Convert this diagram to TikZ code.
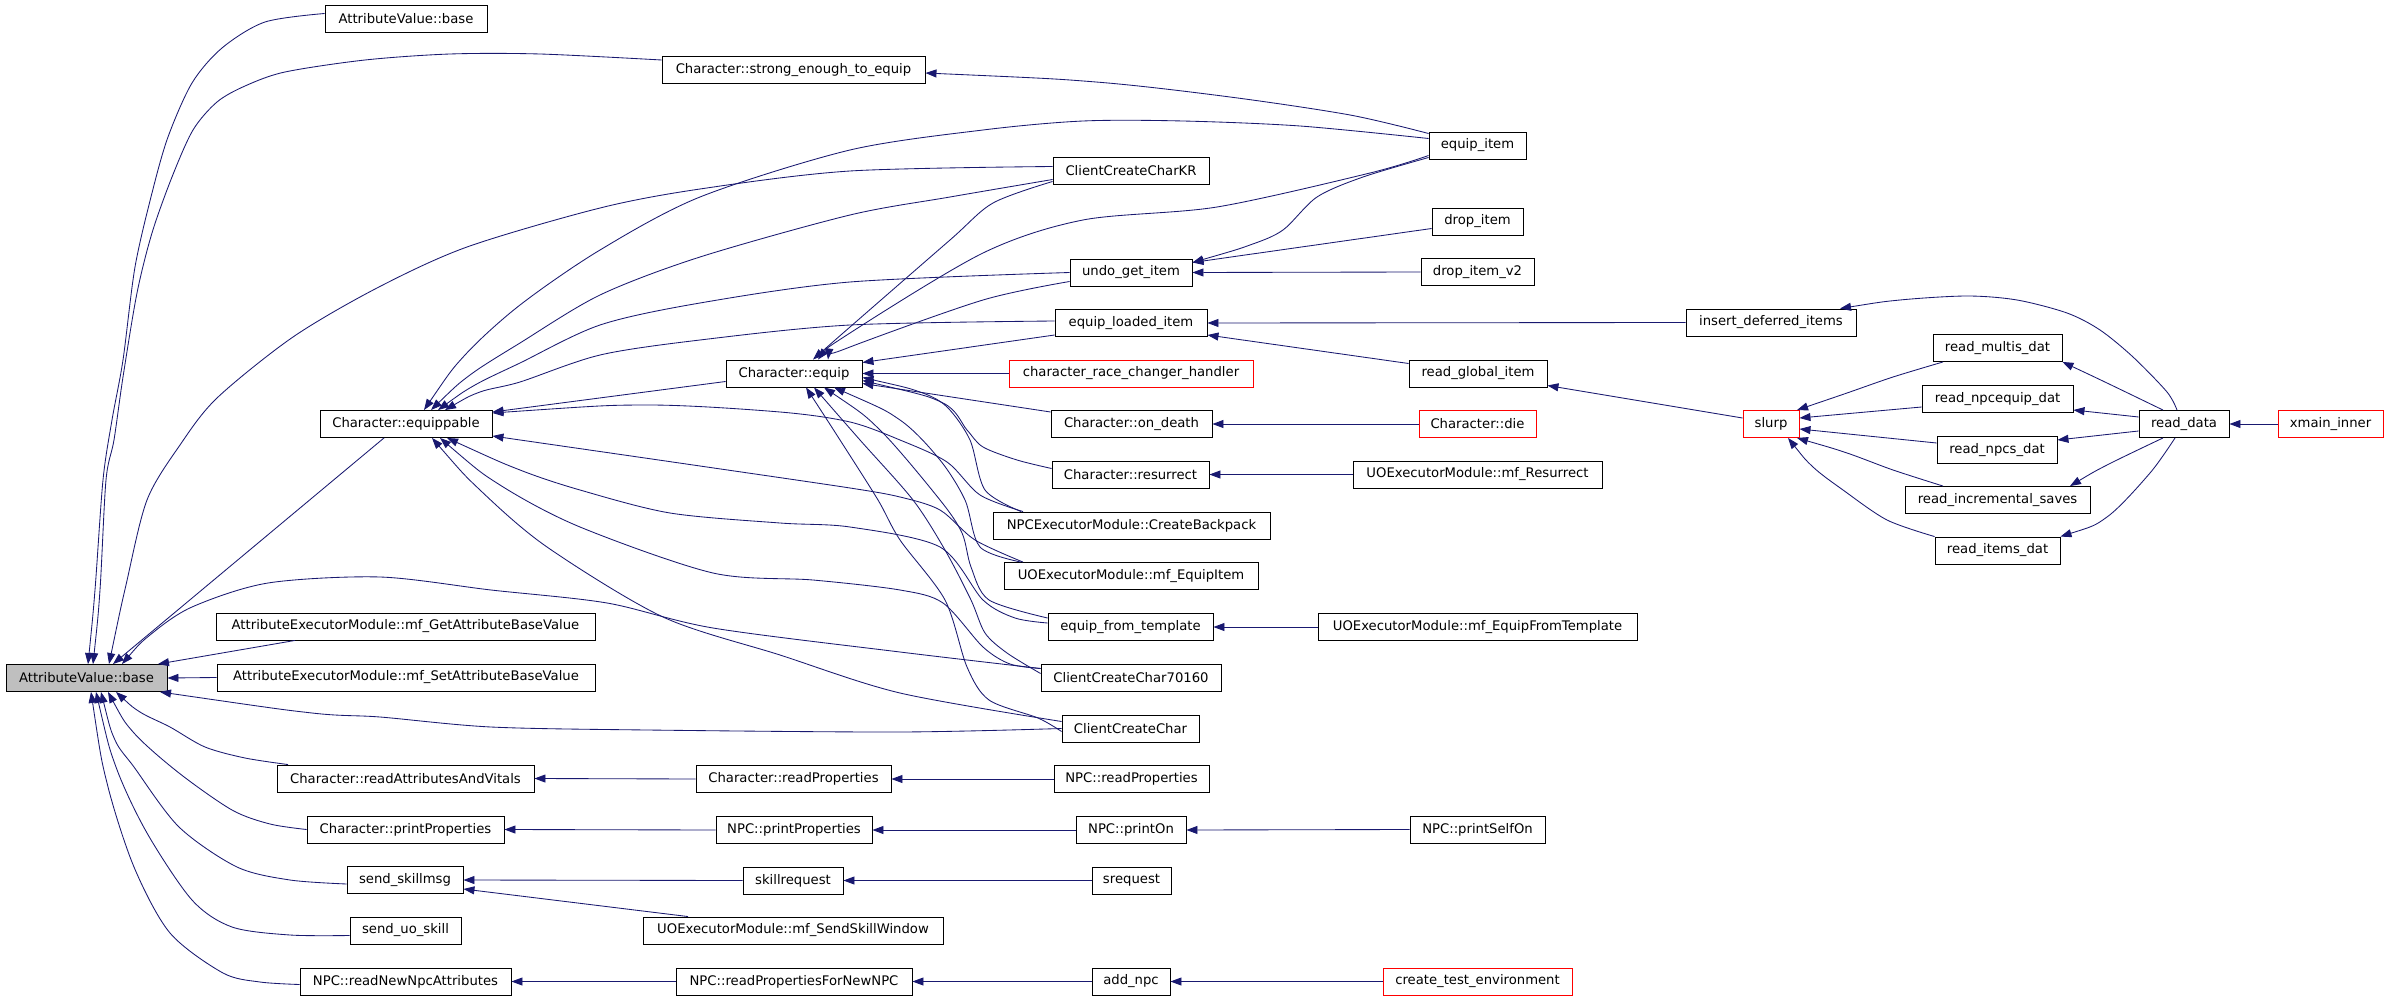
\documentclass[tikz,border=0pt]{standalone}
\usepackage{fontspec}
\newfontfamily\fnt{DejaVu Sans}
\usetikzlibrary{arrows.meta}
\definecolor{navy}{HTML}{191970}
\definecolor{boxgray}{HTML}{BFBFBF}
\begin{document}
\begin{tikzpicture}[x=1pt,y=-1pt,
  fn/.style={draw=black, line width=0.9pt, fill=white, inner sep=0pt, minimum height=27pt, font=\fnt\fontsize{13.2pt}{16pt}\selectfont, text=black},
  fnred/.style={fn, draw=red},
  callarrow/.style={draw=navy, line width=0.85pt, {Triangle[length=11pt,width=8pt]}-},
  sm/.style={smooth, tension=0.5}]
\useasboundingbox[fill=white] (0,0) rectangle (2389,1000);
% ---------- nodes ----------
\node[fn, fill=boxgray, minimum width=161pt] (avb) at (86.5,678) {AttributeValue::base};
\node[fn, minimum width=162pt] (avb2) at (406,18.5) {AttributeValue::base};
\node[fn, minimum width=263pt] (strong) at (793.5,70) {Character::strong\_enough\_to\_equip};
\node[fn, minimum width=172pt] (eqp) at (406,424) {Character::equippable};
\node[fn, minimum width=379pt] (getabv) at (405.5,626.5) {AttributeExecutorModule::mf\_GetAttributeBaseValue};
\node[fn, minimum width=378pt] (setabv) at (406,677.5) {AttributeExecutorModule::mf\_SetAttributeBaseValue};
\node[fn, minimum width=257pt] (rattr) at (405.5,778.5) {Character::readAttributesAndVitals};
\node[fn, minimum width=197pt] (pprops) at (405.5,829.5) {Character::printProperties};
\node[fn, minimum width=116pt] (sskill) at (405,880) {send\_skillmsg};
\node[fn, minimum width=111pt] (suo) at (405.5,930.5) {send\_uo\_skill};
\node[fn, minimum width=211pt] (rnew) at (405.5,981.5) {NPC::readNewNpcAttributes};
\node[fn, minimum width=136pt] (equip) at (794,373.5) {Character::equip};
\node[fn, minimum width=195pt] (creadp) at (793.5,779) {Character::readProperties};
\node[fn, minimum width=156pt] (nprint) at (794,830) {NPC::printProperties};
\node[fn, minimum width=100pt] (skreq) at (793,880.5) {skillrequest};
\node[fn, minimum width=300pt] (sswin) at (793,930.5) {UOExecutorModule::mf\_SendSkillWindow};
\node[fn, minimum width=236pt] (rpnew) at (794,981.5) {NPC::readPropertiesForNewNPC};
\node[fn, minimum width=156pt] (kr) at (1131,170.5) {ClientCreateCharKR};
\node[fn, minimum width=122pt] (undo) at (1131,272.5) {undo\_get\_item};
\node[fn, minimum width=152pt] (eload) at (1131,323) {equip\_loaded\_item};
\node[fnred, minimum width=244pt] (race) at (1131,373.5) {character\_race\_changer\_handler};
\node[fn, minimum width=161pt] (death) at (1131.5,424) {Character::on\_death};
\node[fn, minimum width=157pt] (resur) at (1130.5,474.5) {Character::resurrect};
\node[fn, minimum width=277pt] (cbp) at (1131.5,525.5) {NPCExecutorModule::CreateBackpack};
\node[fn, minimum width=254pt] (mfei) at (1131,576) {UOExecutorModule::mf\_EquipItem};
\node[fn, minimum width=165pt] (eft) at (1130.5,627) {equip\_from\_template};
\node[fn, minimum width=180pt] (c70) at (1131,677.5) {ClientCreateChar70160};
\node[fn, minimum width=137pt] (cc) at (1130.5,728.5) {ClientCreateChar};
\node[fn, minimum width=155pt] (nreadp) at (1131.5,779) {NPC::readProperties};
\node[fn, minimum width=110pt] (pon) at (1131,830) {NPC::printOn};
\node[fn, minimum width=79pt] (sreq) at (1131.5,880.5) {srequest};
\node[fn, minimum width=78pt] (addnpc) at (1131,981.5) {add\_npc};
\node[fn, minimum width=97pt] (eitem) at (1477.5,145.5) {equip\_item};
\node[fn, minimum width=91pt] (ditem) at (1477.5,221.5) {drop\_item};
\node[fn, minimum width=113pt] (ditem2) at (1477.5,272) {drop\_item\_v2};
\node[fn, minimum width=138pt] (rgi) at (1478,373.5) {read\_global\_item};
\node[fnred, minimum width=117pt] (die) at (1477.5,424) {Character::die};
\node[fn, minimum width=249pt] (mfres) at (1477.5,474.5) {UOExecutorModule::mf\_Resurrect};
\node[fn, minimum width=319pt] (mfeft) at (1477.5,627) {UOExecutorModule::mf\_EquipFromTemplate};
\node[fn, minimum width=135pt] (pself) at (1477.5,829.5) {NPC::printSelfOn};
\node[fnred, minimum width=189pt] (cte) at (1477.5,981.5) {create\_test\_environment};
\node[fn, minimum width=170pt] (ins) at (1771,322.5) {insert\_deferred\_items};
\node[fnred, minimum width=56pt] (slurp) at (1771,424) {slurp};
\node[fn, minimum width=129pt] (rmul) at (1997.5,348) {read\_multis\_dat};
\node[fn, minimum width=151pt] (rneq) at (1997.5,399) {read\_npcequip\_dat};
\node[fn, minimum width=120pt] (rnpcs) at (1997,450) {read\_npcs\_dat};
\node[fn, minimum width=185pt] (rinc) at (1997.5,500) {read\_incremental\_saves};
\node[fn, minimum width=125pt] (ritems) at (1997.5,550.5) {read\_items\_dat};
\node[fn, minimum width=90pt] (rdata) at (2184,424) {read\_data};
\node[fnred, minimum width=105pt] (xmain) at (2330.5,424) {xmain\_inner};
% ---------- callers of AttributeValue::base ----------
\draw[callarrow] plot[sm] coordinates {(avb.north -| 88,0) (95,590) (103,480) (112,420) (123,360) (135,267) (152,193) (168,137) (192,83) (222,48) (265,22) ([yshift=5pt]avb2.west)};
\draw[callarrow] plot[sm] coordinates {(avb.north -| 93,0) (100,590) (106,480) (114,440) (123,377) (137,293) (152,233) (172,177) (193,130) (217,102) (245,86) (285,72) (365,60) (450,54) (540,54) ([yshift=10pt]strong.west)};
\draw[callarrow] plot[sm] coordinates {(avb.north -| 109,0) (126,585) (147,500) (180,445) (217,398) (293,337) (377,288) (467,247) (600,208) (700,189) (850,171) ([yshift=4pt]kr.west)};
\draw[callarrow] (avb.north -| 113,0) -- (eqp.south -| 384,0);
\draw[callarrow] (avb.north -| 158,0) -- (getabv.south -| 295,0);
\draw[callarrow] (avb.east) -- (setabv.west);
\draw[callarrow] plot[sm] coordinates {(avb.north -| 122,0) (150,635) (192,607) (268,583) (380,577) (491,590) (607,603) (713,628) (900,652) ([yshift=9pt]c70.west)};
\draw[callarrow] plot[sm] coordinates {(avb.south -| 160,0) (312,713) (380,717) (491,727) (647,730) (900,732) (cc.west)};
\draw[callarrow] plot[sm] coordinates {(avb.south -| 116,0) (140,712) (170,727) (205,747) (245,758) (rattr.north -| 288,0)};
\draw[callarrow] plot[sm] coordinates {(avb.south -| 108,0) (134,733) (179,773) (232,810) (270,824) (pprops.west)};
\draw[callarrow] plot[sm] coordinates {(avb.south -| 101,0) (115,740) (134,767) (179,827) (237,867) (290,880) ([yshift=-4pt]sskill.west)};
\draw[callarrow] plot[sm] coordinates {(avb.south -| 96,0) (116,767) (147,833) (192,900) (232,927) (290,935) ([yshift=-5pt]suo.west)};
\draw[callarrow] plot[sm] coordinates {(avb.south -| 91,0) (107,783) (134,867) (170,933) (223,973) (260,982) ([yshift=-3pt]rnew.west)};
% ---------- callers of Character::equippable ----------
\draw[callarrow] plot[sm] coordinates {(eqp.north -| 424,0) (465,355) (520,305) (600,250) (700,197) (850,150) (983,130) (1083,121) (1183,121) (1300,126) ([yshift=7pt]eitem.west)};
\draw[callarrow] plot[sm] coordinates {(eqp.north -| 431,0) (470,375) (520,343) (600,295) (700,257) (850,215) (950,197) ([yshift=-9pt]kr.west)};
\draw[callarrow] plot[sm] coordinates {(eqp.north -| 438,0) (475,385) (520,363) (600,325) (700,303) (850,282) (undo.west)};
\draw[callarrow] plot[sm] coordinates {(eqp.north -| 445,0) (480,392) (520,382) (600,355) (700,340) (850,325) ([yshift=2pt]eload.west)};
\draw[callarrow] ([yshift=12pt]eqp.east) -- ([yshift=-8pt]equip.west);
\draw[callarrow] plot[sm] coordinates {([yshift=11pt]eqp.east) (647,405) (780,412) (850,422) (900,440) (947,462) (980,495) (cbp.north -| 1023,0)};
\draw[callarrow] plot[sm] coordinates {([yshift=-12pt]eqp.east) (700,466) (850,488) (900,497) (940,510) (975,540) (mfei.north -| 1023,0)};
\draw[callarrow] plot[sm] coordinates {(eqp.south -| 447,0) (520,470) (580,490) (670,513) (780,523) (850,527) (940,547) (983,600) (1015,618) ([yshift=4pt]eft.west)};
\draw[callarrow] plot[sm] coordinates {(eqp.south -| 440,0) (500,485) (580,527) (713,573) (813,580) (900,590) (943,603) (983,647) (1010,664) ([yshift=9pt]c70.west)};
\draw[callarrow] plot[sm] coordinates {(eqp.south -| 432,0) (480,490) (547,547) (663,617) (780,655) (900,693) ([yshift=7pt]cc.west)};
% ---------- callers of Character::equip ----------
\draw[callarrow] plot[sm] coordinates {(equip.north -| 813,0) (850,327) (950,240) (993,203) ([yshift=-11pt]kr.west)};
\draw[callarrow] plot[sm] coordinates {(equip.north -| 818,0) (850,333) (983,253) (1083,220) (1217,207) (1370,173) ([yshift=-10pt]eitem.west)};
\draw[callarrow] plot[sm] coordinates {(equip.north -| 828,0) (850,347) (983,300) ([yshift=-9pt]undo.west)};
\draw[callarrow] ([yshift=11pt]equip.east) -- ([yshift=-12pt]eload.west);
\draw[callarrow] (equip.east) -- (race.west);
\draw[callarrow] ([yshift=-10pt]equip.east) -- ([yshift=12pt]death.west);
\draw[callarrow] plot[sm] coordinates {([yshift=-7pt]equip.east) (943,403) (967,430) (983,447) (1017,460) ([yshift=6pt]resur.west)};
\draw[callarrow] plot[sm] coordinates {([yshift=-4pt]equip.east) (920,392) (947,407) (970,440) (985,490) (cbp.north -| 1021,0)};
\draw[callarrow] plot[sm] coordinates {(equip.south -| 834,0) (900,420) (940,460) (965,500) (980,547) (mfei.north -| 1021,0)};
\draw[callarrow] plot[sm] coordinates {(equip.south -| 824,0) (880,430) (940,500) (962,533) (971,567) (989,600) ([yshift=9pt]eft.west)};
\draw[callarrow] plot[sm] coordinates {(equip.south -| 814,0) (860,440) (913,500) (945,550) (971,600) (985,633) (1007,653) ([yshift=4pt]c70.west)};
\draw[callarrow] plot[sm] coordinates {(equip.south -| 806,0) (840,440) (878,500) (900,540) (945,600) (967,667) (989,700) (1038,718) ([yshift=-3pt]cc.west)};
% ---------- other calls ----------
\draw[callarrow] plot[sm] coordinates {([yshift=-3pt]strong.east) (1096,82) (1230,97) (1350,115) ([yshift=12pt]eitem.west)};
\draw[callarrow] plot[sm] coordinates {([yshift=10pt]undo.east) (1250,245) (1283,230) (1317,197) (1363,177) ([yshift=-12pt]eitem.west)};
\draw[callarrow] ([yshift=10pt]undo.east) -- ([yshift=-7pt]ditem.west);
\draw[callarrow] (undo.east) -- (ditem2.west);
\draw[callarrow] (eload.east) -- (ins.west);
\draw[callarrow] ([yshift=-12pt]eload.east) -- ([yshift=10pt]rgi.west);
\draw[callarrow] (death.east) -- (die.west);
\draw[callarrow] (resur.east) -- (mfres.west);
\draw[callarrow] (eft.east) -- (mfeft.west);
\draw[callarrow] (rattr.east) -- (creadp.west);
\draw[callarrow] (creadp.east) -- (nreadp.west);
\draw[callarrow] (pprops.east) -- (nprint.west);
\draw[callarrow] (nprint.east) -- (pon.west);
\draw[callarrow] (pon.east) -- (pself.west);
\draw[callarrow] (sskill.east) -- (skreq.west);
\draw[callarrow] (skreq.east) -- (sreq.west);
\draw[callarrow] ([yshift=-9pt]sskill.east) -- (sswin.north -| 688,0);
\draw[callarrow] (rnew.east) -- (rpnew.west);
\draw[callarrow] (rpnew.east) -- (addnpc.west);
\draw[callarrow] (addnpc.east) -- (cte.west);
\draw[callarrow] ([yshift=-12pt]rgi.east) -- ([yshift=6pt]slurp.west);
\draw[callarrow] plot[sm] coordinates {(ins.north -| 1840,0) (1900,300) (1967,296) (2017,300) (2067,313) (2100,330) (2133,357) (2167,392) (rdata.north -| 2177,0)};
\draw[callarrow] plot[sm] coordinates {(slurp.north -| 1797,0) (1847,393) (1893,377) (rmul.south -| 1943,0)};
\draw[callarrow] ([yshift=6pt]slurp.east) -- ([yshift=-8pt]rneq.west);
\draw[callarrow] ([yshift=-5pt]slurp.east) -- ([yshift=7pt]rnpcs.west);
\draw[callarrow] plot[sm] coordinates {(slurp.south -| 1797,0) (1847,453) (1893,470) (rinc.north -| 1943,0)};
\draw[callarrow] plot[sm] coordinates {(slurp.south -| 1788,0) (1813,467) (1843,490) (1887,520) (ritems.north west)};
\draw[callarrow] plot[sm] coordinates {(rmul.south east) (2107,383) (rdata.north -| 2163,0)};
\draw[callarrow] ([yshift=-11pt]rneq.east) -- ([yshift=7pt]rdata.west);
\draw[callarrow] ([yshift=10pt]rnpcs.east) -- ([yshift=-7pt]rdata.west);
\draw[callarrow] plot[sm] coordinates {(rinc.north -| 2070,0) (2107,465) (rdata.south -| 2163,0)};
\draw[callarrow] plot[sm] coordinates {(ritems.north east) (2107,517) (2150,473) (rdata.south -| 2175,0)};
\draw[callarrow] (rdata.east) -- (xmain.west);
\end{tikzpicture}
\end{document}
